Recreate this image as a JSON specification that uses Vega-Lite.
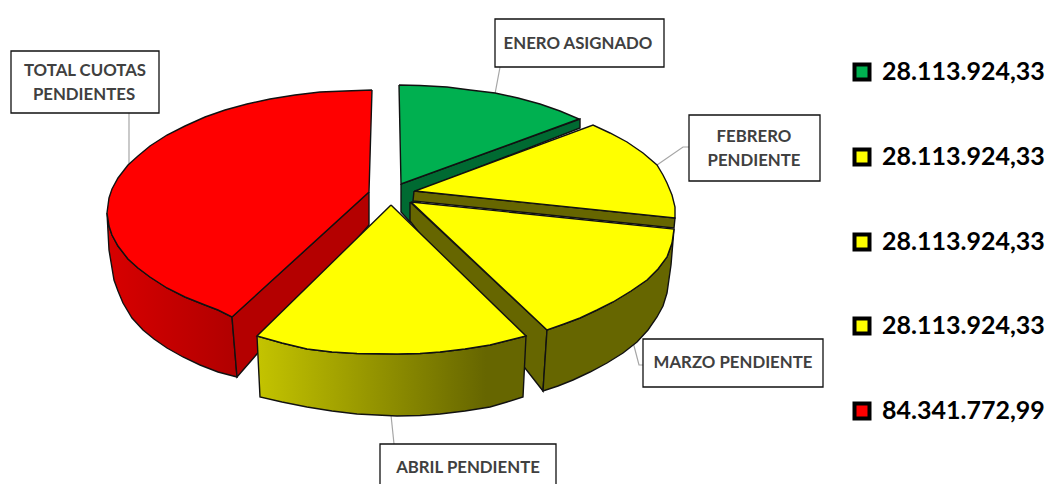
{"$schema":"https://vega.github.io/schema/vega-lite/v6.json","width":1045,"height":484,"padding":0,"autosize":"none","background":"white","config":{"view":{"stroke":null}},
"datasets":{
"outline":[
{"p":"ln1","i":0,"x":495,"y":94},{"p":"ln1","i":1,"x":500,"y":67},
{"p":"ln2","i":0,"x":129,"y":165},{"p":"ln2","i":1,"x":129,"y":113},
{"p":"ln3","i":0,"x":657,"y":165},{"p":"ln3","i":1,"x":683,"y":147},{"p":"ln3","i":2,"x":689,"y":147},
{"p":"ln4","i":0,"x":633,"y":342},{"p":"ln4","i":1,"x":639,"y":365},{"p":"ln4","i":2,"x":643,"y":365},
{"p":"ln5","i":0,"x":391,"y":415},{"p":"ln5","i":1,"x":394,"y":444},
{"p":"ro","i":0,"x":107,"y":213},{"p":"ro","i":1,"x":109,"y":250},{"p":"ro","i":2,"x":114,"y":280},{"p":"ro","i":3,"x":118,"y":291},{"p":"ro","i":4,"x":123,"y":303},{"p":"ro","i":5,"x":132,"y":318},{"p":"ro","i":6,"x":143,"y":330},{"p":"ro","i":7,"x":154,"y":339},{"p":"ro","i":8,"x":167,"y":348},{"p":"ro","i":9,"x":183,"y":357},{"p":"ro","i":10,"x":200,"y":365},{"p":"ro","i":11,"x":218,"y":372},{"p":"ro","i":12,"x":237,"y":377},{"p":"ro","i":13,"x":232,"y":317},{"p":"ro","i":14,"x":218,"y":310},{"p":"ro","i":15,"x":205,"y":305},{"p":"ro","i":16,"x":185,"y":297},{"p":"ro","i":17,"x":167,"y":288},{"p":"ro","i":18,"x":150,"y":277},{"p":"ro","i":19,"x":138,"y":268},{"p":"ro","i":20,"x":128,"y":259},{"p":"ro","i":21,"x":118,"y":246},{"p":"ro","i":22,"x":112,"y":235},{"p":"ro","i":23,"x":109,"y":226},{"p":"ro","i":24,"x":107,"y":213},
{"p":"ri","i":0,"x":369,"y":192},{"p":"ri","i":1,"x":232,"y":317},{"p":"ri","i":2,"x":237,"y":377},{"p":"ri","i":3,"x":369,"y":225},{"p":"ri","i":4,"x":369,"y":192},
{"p":"rt","i":0,"x":372,"y":90},{"p":"rt","i":1,"x":369,"y":192},{"p":"rt","i":2,"x":232,"y":317},{"p":"rt","i":3,"x":218,"y":310},{"p":"rt","i":4,"x":205,"y":305},{"p":"rt","i":5,"x":185,"y":297},{"p":"rt","i":6,"x":167,"y":288},{"p":"rt","i":7,"x":150,"y":277},{"p":"rt","i":8,"x":138,"y":268},{"p":"rt","i":9,"x":128,"y":259},{"p":"rt","i":10,"x":118,"y":246},{"p":"rt","i":11,"x":112,"y":235},{"p":"rt","i":12,"x":109,"y":226},{"p":"rt","i":13,"x":107,"y":213},{"p":"rt","i":14,"x":109,"y":198},{"p":"rt","i":15,"x":112,"y":189},{"p":"rt","i":16,"x":118,"y":178},{"p":"rt","i":17,"x":128,"y":165},{"p":"rt","i":18,"x":138,"y":156},{"p":"rt","i":19,"x":150,"y":146},{"p":"rt","i":20,"x":167,"y":135},{"p":"rt","i":21,"x":185,"y":126},{"p":"rt","i":22,"x":205,"y":117},{"p":"rt","i":23,"x":225,"y":110},{"p":"rt","i":24,"x":247,"y":104},{"p":"rt","i":25,"x":270,"y":99},{"p":"rt","i":26,"x":295,"y":95},{"p":"rt","i":27,"x":320,"y":92},{"p":"rt","i":28,"x":345,"y":91},{"p":"rt","i":29,"x":372,"y":90},
{"p":"gs","i":0,"x":401,"y":184},{"p":"gs","i":1,"x":580,"y":119},{"p":"gs","i":2,"x":580,"y":128},{"p":"gs","i":3,"x":420,"y":190},{"p":"gs","i":4,"x":420,"y":225},{"p":"gs","i":5,"x":410,"y":222},{"p":"gs","i":6,"x":401,"y":212},{"p":"gs","i":7,"x":401,"y":184},
{"p":"gt","i":0,"x":399,"y":85},{"p":"gt","i":1,"x":401,"y":184},{"p":"gt","i":2,"x":579,"y":119},{"p":"gt","i":3,"x":560,"y":111},{"p":"gt","i":4,"x":540,"y":104},{"p":"gt","i":5,"x":518,"y":98},{"p":"gt","i":6,"x":495,"y":93},{"p":"gt","i":7,"x":470,"y":90},{"p":"gt","i":8,"x":447,"y":87},{"p":"gt","i":9,"x":420,"y":85.5},{"p":"gt","i":10,"x":399,"y":85},
{"p":"fs","i":0,"x":414,"y":191},{"p":"fs","i":1,"x":675,"y":218},{"p":"fs","i":2,"x":674,"y":228},{"p":"fs","i":3,"x":413,"y":201},{"p":"fs","i":4,"x":414,"y":191},
{"p":"ft","i":0,"x":415,"y":191},{"p":"ft","i":1,"x":593,"y":125},{"p":"ft","i":2,"x":610,"y":133},{"p":"ft","i":3,"x":627,"y":142},{"p":"ft","i":4,"x":643,"y":153},{"p":"ft","i":5,"x":657,"y":165},{"p":"ft","i":6,"x":663,"y":175},{"p":"ft","i":7,"x":667,"y":183},{"p":"ft","i":8,"x":672,"y":195},{"p":"ft","i":9,"x":675,"y":207},{"p":"ft","i":10,"x":675,"y":218},{"p":"ft","i":11,"x":415,"y":191},
{"p":"mi","i":0,"x":410,"y":202},{"p":"mi","i":1,"x":547,"y":330},{"p":"mi","i":2,"x":543,"y":391},{"p":"mi","i":3,"x":410,"y":221},{"p":"mi","i":4,"x":410,"y":202},
{"p":"mo","i":0,"x":547,"y":330},{"p":"mo","i":1,"x":564,"y":324},{"p":"mo","i":2,"x":580,"y":318},{"p":"mo","i":3,"x":597,"y":310},{"p":"mo","i":4,"x":613,"y":302},{"p":"mo","i":5,"x":631,"y":291},{"p":"mo","i":6,"x":647,"y":280},{"p":"mo","i":7,"x":658,"y":269},{"p":"mo","i":8,"x":667,"y":257},{"p":"mo","i":9,"x":672,"y":243},{"p":"mo","i":10,"x":674,"y":229},{"p":"mo","i":11,"x":671,"y":265},{"p":"mo","i":12,"x":667,"y":293},{"p":"mo","i":13,"x":663,"y":306},{"p":"mo","i":14,"x":657,"y":317},{"p":"mo","i":15,"x":648,"y":330},{"p":"mo","i":16,"x":637,"y":342},{"p":"mo","i":17,"x":623,"y":353},{"p":"mo","i":18,"x":607,"y":363},{"p":"mo","i":19,"x":590,"y":372},{"p":"mo","i":20,"x":573,"y":380},{"p":"mo","i":21,"x":558,"y":386},{"p":"mo","i":22,"x":543,"y":391},{"p":"mo","i":23,"x":547,"y":330},
{"p":"mt","i":0,"x":411,"y":202},{"p":"mt","i":1,"x":674,"y":229},{"p":"mt","i":2,"x":672,"y":243},{"p":"mt","i":3,"x":667,"y":257},{"p":"mt","i":4,"x":658,"y":269},{"p":"mt","i":5,"x":647,"y":280},{"p":"mt","i":6,"x":631,"y":291},{"p":"mt","i":7,"x":613,"y":302},{"p":"mt","i":8,"x":597,"y":310},{"p":"mt","i":9,"x":580,"y":318},{"p":"mt","i":10,"x":564,"y":324},{"p":"mt","i":11,"x":547,"y":330},{"p":"mt","i":12,"x":411,"y":202},
{"p":"as","i":0,"x":257,"y":336},{"p":"as","i":1,"x":282,"y":343},{"p":"as","i":2,"x":307,"y":349},{"p":"as","i":3,"x":332,"y":352},{"p":"as","i":4,"x":357,"y":353.5},{"p":"as","i":5,"x":397,"y":354},{"p":"as","i":6,"x":420,"y":353.5},{"p":"as","i":7,"x":440,"y":352},{"p":"as","i":8,"x":465,"y":349},{"p":"as","i":9,"x":490,"y":345},{"p":"as","i":10,"x":510,"y":340},{"p":"as","i":11,"x":526,"y":336},{"p":"as","i":12,"x":523,"y":397},{"p":"as","i":13,"x":507,"y":402},{"p":"as","i":14,"x":490,"y":407},{"p":"as","i":15,"x":465,"y":411},{"p":"as","i":16,"x":440,"y":414},{"p":"as","i":17,"x":420,"y":415.5},{"p":"as","i":18,"x":397,"y":416},{"p":"as","i":19,"x":357,"y":414},{"p":"as","i":20,"x":332,"y":411},{"p":"as","i":21,"x":307,"y":407},{"p":"as","i":22,"x":282,"y":402},{"p":"as","i":23,"x":260,"y":397},{"p":"as","i":24,"x":257,"y":336},
{"p":"at","i":0,"x":391,"y":205},{"p":"at","i":1,"x":526,"y":336},{"p":"at","i":2,"x":510,"y":340},{"p":"at","i":3,"x":490,"y":345},{"p":"at","i":4,"x":465,"y":349},{"p":"at","i":5,"x":440,"y":352},{"p":"at","i":6,"x":420,"y":353.5},{"p":"at","i":7,"x":397,"y":354},{"p":"at","i":8,"x":357,"y":353.5},{"p":"at","i":9,"x":332,"y":352},{"p":"at","i":10,"x":307,"y":349},{"p":"at","i":11,"x":282,"y":343},{"p":"at","i":12,"x":257,"y":336},{"p":"at","i":13,"x":391,"y":205}
],
"boxes":[
{"name":"ENERO ASIGNADO","x":495,"x2":664,"y":19,"y2":67},
{"name":"TOTAL CUOTAS PENDIENTES","x":11,"x2":159,"y":51,"y2":113},
{"name":"FEBRERO PENDIENTE","x":689,"x2":820,"y":115,"y2":181},
{"name":"MARZO PENDIENTE","x":643,"x2":823,"y":339,"y2":387},
{"name":"ABRIL PENDIENTE","x":380,"x2":556,"y":444,"y2":492}],
"labels":[
{"t":"ENERO ASIGNADO","x":578,"y":44},
{"t":"TOTAL CUOTAS","x":85,"y":71},
{"t":"PENDIENTES","x":84,"y":95},
{"t":"FEBRERO","x":754,"y":137},
{"t":"PENDIENTE","x":754,"y":161},
{"t":"MARZO PENDIENTE","x":733,"y":363},
{"t":"ABRIL PENDIENTE","x":468,"y":468}],
"legend":[
{"cat":"ENERO ASIGNADO","v":"28.113.924,33","x":862,"tx":882,"y":72},
{"cat":"FEBRERO PENDIENTE","v":"28.113.924,33","x":862,"tx":882,"y":157},
{"cat":"MARZO PENDIENTE","v":"28.113.924,33","x":862,"tx":882,"y":242},
{"cat":"ABRIL PENDIENTE","v":"28.113.924,33","x":862,"tx":882,"y":326},
{"cat":"TOTAL CUOTAS PENDIENTES","v":"84.341.772,99","x":862,"tx":882,"y":411}]
},
"data":{"name":"outline"},
"encoding":{
"x":{"field":"x","type":"quantitative","scale":{"domain":[0,1045]},"axis":null},
"y":{"field":"y","type":"quantitative","scale":{"domain":[484,0]},"axis":null}},
"layer":[
{"transform":[{"filter":"indexof(datum.p,'ln')==0"}],"mark":{"type":"line","stroke":"#a6a6a6","strokeWidth":1.2},"encoding":{"detail":{"field":"p"},"order":{"field":"i"}}},
{"transform":[{"filter":"datum.p=='ro'"}],"mark":{"type":"line","stroke":"#111","strokeWidth":1.4,"fill":{"gradient":"linear","x1":0,"y1":0,"x2":1,"y2":0,"stops":[{"offset":0,"color":"#d80000"},{"offset":1,"color":"#b00000"}]}},"encoding":{"order":{"field":"i"}}},
{"transform":[{"filter":"datum.p=='ri'"}],"mark":{"type":"line","stroke":"#111","strokeWidth":1.4,"fill":"#b40000"},"encoding":{"order":{"field":"i"}}},
{"transform":[{"filter":"datum.p=='rt'"}],"mark":{"type":"line","stroke":"#111","strokeWidth":1.4,"fill":"#ff0000"},"encoding":{"order":{"field":"i"}}},
{"transform":[{"filter":"datum.p=='gs'"}],"mark":{"type":"line","stroke":"#111","strokeWidth":1.4,"fill":"#006a32"},"encoding":{"order":{"field":"i"}}},
{"transform":[{"filter":"datum.p=='gt'"}],"mark":{"type":"line","stroke":"#111","strokeWidth":1.4,"fill":"#00b050"},"encoding":{"order":{"field":"i"}}},
{"transform":[{"filter":"datum.p=='fs'"}],"mark":{"type":"line","stroke":"#111","strokeWidth":1.4,"fill":"#666600"},"encoding":{"order":{"field":"i"}}},
{"transform":[{"filter":"datum.p=='ft'"}],"mark":{"type":"line","stroke":"#111","strokeWidth":1.4,"fill":"#ffff00"},"encoding":{"order":{"field":"i"}}},
{"transform":[{"filter":"datum.p=='mi'"}],"mark":{"type":"line","stroke":"#111","strokeWidth":1.4,"fill":"#666600"},"encoding":{"order":{"field":"i"}}},
{"transform":[{"filter":"datum.p=='mo'"}],"mark":{"type":"line","stroke":"#111","strokeWidth":1.4,"fill":"#666600"},"encoding":{"order":{"field":"i"}}},
{"transform":[{"filter":"datum.p=='mt'"}],"mark":{"type":"line","stroke":"#111","strokeWidth":1.4,"fill":"#ffff00"},"encoding":{"order":{"field":"i"}}},
{"transform":[{"filter":"datum.p=='as'"}],"mark":{"type":"line","stroke":"#111","strokeWidth":1.4,"fill":{"gradient":"linear","x1":0,"y1":0,"x2":1,"y2":0,"stops":[{"offset":0,"color":"#c4c400"},{"offset":0.85,"color":"#666600"},{"offset":1,"color":"#666600"}]}},"encoding":{"order":{"field":"i"}}},
{"transform":[{"filter":"datum.p=='at'"}],"mark":{"type":"line","stroke":"#111","strokeWidth":1.4,"fill":"#ffff00"},"encoding":{"order":{"field":"i"}}},
{"data":{"name":"boxes"},"mark":{"type":"rect","fill":"white","stroke":"#111","strokeWidth":1.3,"clip":true},"encoding":{"x2":{"field":"x2"},"y2":{"field":"y2"}}},
{"data":{"name":"labels"},"mark":{"type":"text","font":"Lato","fontWeight":"bold","fontSize":16.8,"fill":"#404040","align":"center","baseline":"middle"},"encoding":{"text":{"field":"t"}}},
{"data":{"name":"legend"},"mark":{"type":"point","shape":"square","filled":false,"size":225,"strokeWidth":4,"stroke":"black","opacity":1},"encoding":{"fill":{"field":"cat","type":"nominal","legend":null,"scale":{"domain":["ENERO ASIGNADO","FEBRERO PENDIENTE","MARZO PENDIENTE","ABRIL PENDIENTE","TOTAL CUOTAS PENDIENTES"],"range":["#00b050","#ffff00","#ffff00","#ffff00","#ff0000"]}}}},
{"data":{"name":"legend"},"mark":{"type":"text","font":"Lato","fontWeight":"bold","fontSize":25,"fill":"black","align":"left","baseline":"middle"},"encoding":{"x":{"field":"tx","type":"quantitative"},"text":{"field":"v"}}}
]}
